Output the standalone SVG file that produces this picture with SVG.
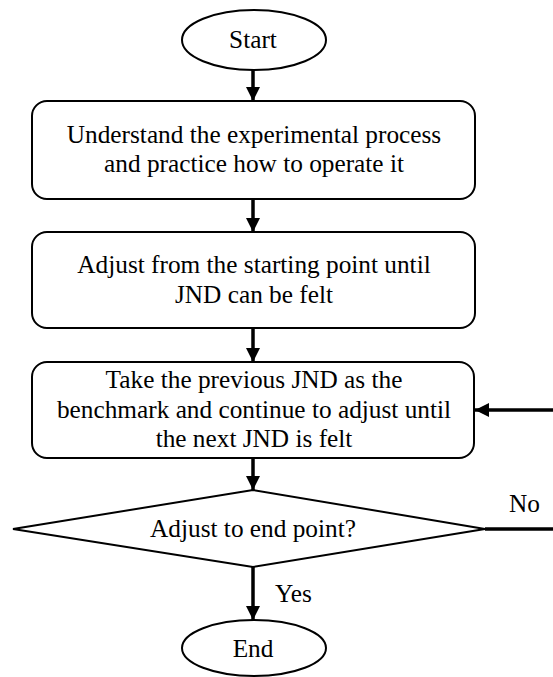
<svg xmlns="http://www.w3.org/2000/svg" width="553" height="677" viewBox="0 0 553 677">
<style>
.shape{fill:#fff;stroke:#000;stroke-width:2}
.t{font-family:'Liberation Serif',serif;font-size:25.3px;fill:#000;text-anchor:middle}
.lbl{font-family:'Liberation Serif',serif;font-size:25.3px;fill:#000}
.c{stroke:#000;stroke-width:3.5;fill:none}
</style>
<defs>
<marker id="ah" markerUnits="userSpaceOnUse" markerWidth="14" markerHeight="14" refX="14" refY="7" orient="auto">
<path d="M0,0 L14,7 L0,14 Z" fill="#000"/>
</marker>
</defs>
<g id="connectors">
<line class="c" x1="253" y1="70" x2="253" y2="101" marker-end="url(#ah)"/>
<line class="c" x1="253" y1="199" x2="253" y2="232" marker-end="url(#ah)"/>
<line class="c" x1="253" y1="328" x2="253" y2="362" marker-end="url(#ah)"/>
<line class="c" x1="253" y1="458" x2="253" y2="490" marker-end="url(#ah)"/>
<line class="c" x1="253" y1="567" x2="253" y2="620" marker-end="url(#ah)"/>
<line class="c" x1="485" y1="529" x2="553" y2="529"/>
<line class="c" x1="553" y1="410" x2="475" y2="410" marker-end="url(#ah)"/>
<text class="lbl" x="509" y="512">No</text>
<text class="lbl" x="275" y="602">Yes</text>
</g>
<g id="start">
<ellipse class="shape" cx="254" cy="40" rx="72" ry="30"/>
<text class="t" x="253" y="48">Start</text>
</g>
<g id="step1">
<rect class="shape" x="32" y="101" width="443" height="98" rx="15"/>
<text class="t" x="254" y="143">Understand the experimental process</text>
<text class="t" x="254" y="172">and practice how to operate it</text>
</g>
<g id="step2">
<rect class="shape" x="32" y="232" width="443" height="96" rx="15"/>
<text class="t" x="254" y="273">Adjust from the starting point until</text>
<text class="t" x="254" y="303">JND can be felt</text>
</g>
<g id="step3">
<rect class="shape" x="32" y="362" width="442" height="96" rx="15"/>
<text class="t" x="254" y="388">Take the previous JND as the</text>
<text class="t" x="254" y="418">benchmark and continue to adjust until</text>
<text class="t" x="254" y="447">the next JND is felt</text>
</g>
<g id="decision">
<polygon class="shape" points="253,490 485,529 253,567 13,529"/>
<text class="t" x="253" y="537">Adjust to end point?</text>
</g>
<g id="end">
<ellipse class="shape" cx="254" cy="648" rx="72" ry="28"/>
<text class="t" x="253" y="657">End</text>
</g>
</svg>
